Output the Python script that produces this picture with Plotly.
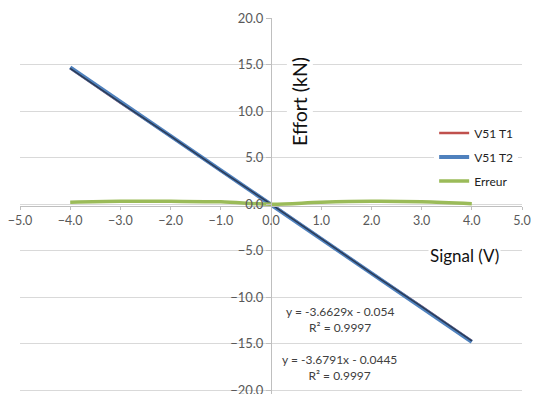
import plotly.graph_objects as go

signal_v = [-4, -3, -2, -1, 0, 1, 2, 3, 4]
v51_t1 = [14.6, 10.9, 7.3, 3.6, 0.0, -3.7, -7.4, -11.0, -14.7]
v51_t2 = [14.7, 11.0, 7.3, 3.6, 0.0, -3.7, -7.4, -11.1, -14.8]
erreur = [0.2, 0.3, 0.3, 0.25, 0.0, 0.2, 0.3, 0.25, 0.05]

x_ticks = [-5, -4, -3, -2, -1, 0, 1, 2, 3, 4, 5]
y_ticks = [-20, -15, -10, -5, 0, 5, 10, 15, 20]

eq_labels = ["y = -3.6629x - 0.054<br>R² = 0.9997",
             "y = -3.6791x - 0.0445<br>R² = 0.9997"]

FONT = "Lato, 'Open Sans', sans-serif"

fig = go.Figure()
fig.add_trace(go.Scatter(x=signal_v, y=v51_t1, mode="lines", name="V51 T1",
                         line=dict(color="#C0504D", width=2.5), legendgroup="a"))
fig.add_trace(go.Scatter(x=signal_v, y=v51_t2, mode="lines", name="V51 T2",
                         line=dict(color="#4F81BD", width=4), legendgroup="b"))
fig.add_trace(go.Scatter(x=signal_v, y=v51_t1, mode="lines", showlegend=False,
                         line=dict(color="#2B3A55", width=1.5), hoverinfo="skip"))
fig.add_trace(go.Scatter(x=signal_v, y=erreur, mode="lines", name="Erreur",
                         line=dict(color="#9BBB59", width=3.5, shape="spline"),
                         legendgroup="c"))

for txt, xa, ya in zip(eq_labels, [1.37, 1.37], [-12.4, -17.6]):
    fig.add_annotation(x=xa, y=ya, text=txt, showarrow=False, align="center",
                       font=dict(size=12, color="#404040", family=FONT))

# axis titles with white background (like Excel)
fig.add_annotation(x=0.58, y=11.0, text="Effort (kN)", textangle=-90, showarrow=False,
                   bgcolor="white", font=dict(size=19.5, color="#111111", family=FONT))
fig.add_annotation(x=3.85, y=-5.5, text="Signal (V)", showarrow=False,
                   bgcolor="white", font=dict(size=17, color="#111111", family=FONT))

fig.update_layout(
    width=534, height=394,
    margin=dict(l=20, r=12, t=18, b=0, autoexpand=False),
    paper_bgcolor="white", plot_bgcolor="white",
    font=dict(family=FONT, size=13, color="#595959"),
    legend=dict(x=0.825, y=0.733, xanchor="left", yanchor="top",
                bgcolor="white", itemwidth=30, tracegroupgap=5,
                font=dict(size=12, color="#222222", family=FONT)),
    xaxis=dict(range=[-5, 5], tickvals=x_ticks, tickformat=".1f",
               anchor="free", position=0.5, showgrid=False, zeroline=False,
               showline=True, linecolor="#BFBFBF", linewidth=1,
               ticks="outside", ticklen=3, tickcolor="#BFBFBF",
               tickfont=dict(size=12.5, color="#595959", family=FONT)),
    yaxis=dict(range=[-20.4, 20], tickvals=y_ticks, tickformat=".1f",
               anchor="free", position=0.5, showgrid=True, gridcolor="#D9D9D9",
               gridwidth=1, zeroline=False, ticklabeloverflow="allow",
               showline=True, linecolor="#BFBFBF", linewidth=1,
               ticks="outside", ticklen=5, tickcolor="#BFBFBF",
               tickfont=dict(size=13, color="#595959", family=FONT)),
)

fig.write_html("out.html", config={"displayModeBar": False},
               post_script="document.body.style.margin='0';")
